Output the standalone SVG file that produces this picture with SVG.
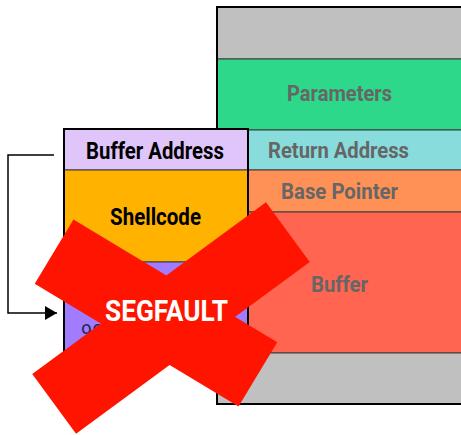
<svg xmlns="http://www.w3.org/2000/svg" width="461" height="435" viewBox="0 0 461 435">
<defs>
<style>
.cell{stroke:#3a3a3a;stroke-width:1}
.outer{fill:none;stroke:#000;stroke-width:2}
.lbl{font-family:Roboto,"Liberation Sans",sans-serif;font-weight:bold;text-anchor:start}
.dark{fill:#000}
.grey{fill:#666}
.conn{fill:none;stroke:#000;stroke-width:1.5}
.bar{fill:#ff1400}
</style>
<marker id="arr" markerWidth="12" markerHeight="14" refX="12" refY="7" orient="auto" markerUnits="userSpaceOnUse">
<path d="M0,0 L12,7 L0,14 Z" fill="#000"/>
</marker>
</defs>
<rect width="461" height="435" fill="#fff"/>
<g id="stack-right">
<g id="top-gray"><rect class="cell" x="217" y="7" width="260" height="52" fill="#c0c0c0"/></g>
<g id="parameters"><rect class="cell" x="217" y="59" width="260" height="71" fill="#2ed88a"/>
<text class="lbl grey" x="287" y="101" font-size="22" textLength="105" lengthAdjust="spacingAndGlyphs">Parameters</text></g>
<g id="return-address"><rect class="cell" x="217" y="130" width="260" height="40" fill="#88dcdc"/>
<text class="lbl grey" x="268" y="158" font-size="22" textLength="141" lengthAdjust="spacingAndGlyphs">Return Address</text></g>
<g id="base-pointer"><rect class="cell" x="217" y="170" width="260" height="42" fill="#ff9157"/>
<text class="lbl grey" x="281" y="199" font-size="22" textLength="117" lengthAdjust="spacingAndGlyphs">Base Pointer</text></g>
<g id="buffer"><rect class="cell" x="217" y="212" width="260" height="141" fill="#ff6551"/>
<text class="lbl grey" x="311" y="292" font-size="22" textLength="57" lengthAdjust="spacingAndGlyphs">Buffer</text></g>
<g id="bottom-gray"><rect class="cell" x="217" y="353" width="260" height="51" fill="#c0c0c0"/></g>
<rect class="outer" x="217" y="7" width="260" height="397"/>
</g>
<g id="stack-left">
<g id="buffer-address"><rect class="cell" x="64" y="129" width="184" height="41" fill="#e0c5fb"/>
<text class="lbl dark" x="86" y="159" font-size="23" textLength="138" lengthAdjust="spacingAndGlyphs">Buffer Address</text></g>
<g id="shellcode"><rect class="cell" x="64" y="170" width="184" height="92" fill="#ffb300"/>
<text class="lbl dark" x="110" y="225" font-size="23" textLength="91" lengthAdjust="spacingAndGlyphs">Shellcode</text></g>
<g id="nop-sled"><rect class="cell" x="64" y="262" width="184" height="89" fill="#a17cff"/>
<text x="81" y="339" font-family="Roboto,'Liberation Sans',sans-serif" font-size="20" fill="#2a2560">90</text></g>
<rect class="outer" x="64" y="129" width="184" height="222"/>
</g>
<g id="connectors">
<path class="conn" d="M54,155 H8 V313 H57" marker-end="url(#arr)"/>
</g>
<g id="segfault-x">
<rect class="bar" x="-119" y="-37.5" width="238" height="75" transform="translate(156,313) rotate(31.1)"/>
<rect class="bar" x="-145" y="-37" width="290" height="74" transform="translate(171,318) rotate(-36.3)"/>
<text class="lbl" x="105" y="321" font-size="29" fill="#fff" textLength="123" lengthAdjust="spacingAndGlyphs">SEGFAULT</text>
</g>
</svg>
